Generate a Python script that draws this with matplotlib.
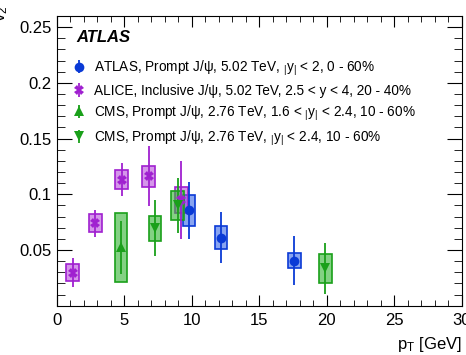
import matplotlib
matplotlib.use("Agg")
import matplotlib.pyplot as plt
from matplotlib.patches import Rectangle
from matplotlib.ticker import MultipleLocator

plt.rcParams['font.family'] = ['Liberation Sans', 'DejaVu Sans']
plt.rcParams['mathtext.fontset'] = 'custom'
plt.rcParams['mathtext.rm'] = 'Liberation Sans'
plt.rcParams['mathtext.it'] = 'Liberation Sans'

# ---- data ----
atlas_x = [9.8, 12.15, 17.6]
atlas_y = [0.0855, 0.061, 0.0405]
atlas_stat = [0.0257, 0.023, 0.0224]
atlas_sys = [0.0142, 0.0105, 0.0068]

alice_x = [1.16, 2.86, 4.79, 6.79, 9.23]
alice_y = [0.0296, 0.074, 0.113, 0.116, 0.095]
alice_stat = [0.0128, 0.012, 0.015, 0.027, 0.035]
alice_sys = [0.0077, 0.008, 0.0084, 0.0096, 0.0115]

cms_fwd_x = [4.74]
cms_fwd_y = [0.0524]
cms_fwd_stat = [0.024]
cms_fwd_sys = [0.031]

cms_mid_x = [7.26, 8.95, 19.9]
cms_mid_y = [0.0695, 0.09, 0.0335]
cms_mid_stat = [0.025, 0.025, 0.0228]
cms_mid_sys = [0.0112, 0.013, 0.013]

labels = [
    r"ATLAS, Prompt J/ψ, 5.02 TeV, ${}_{|}$y${}_{|}$ < 2, 0 - 60%",
    r"ALICE, Inclusive J/ψ, 5.02 TeV, 2.5 < y < 4, 20 - 40%",
    r"CMS, Prompt J/ψ, 2.76 TeV, 1.6 < ${}_{|}$y${}_{|}$ < 2.4, 10 - 60%",
    r"CMS, Prompt J/ψ, 2.76 TeV, ${}_{|}$y${}_{|}$ < 2.4, 10 - 60%",
]

fig = plt.figure(figsize=(4.66, 3.55), dpi=100)
ax = fig.add_axes([0.122, 0.139, 0.869, 0.816])

series = [
    (atlas_x, atlas_y, atlas_stat, atlas_sys, '#0a3ad6', (0.15, 0.35, 0.9, 0.55), 'o', 7, labels[0]),
    (alice_x, alice_y, alice_stat, alice_sys, '#a020d0', (0.7, 0.25, 0.85, 0.55), 'X', 7, labels[1]),
    (cms_fwd_x, cms_fwd_y, cms_fwd_stat, cms_fwd_sys, '#1aa01a', (0.2, 0.7, 0.2, 0.6), '^', 7, labels[2]),
    (cms_mid_x, cms_mid_y, cms_mid_stat, cms_mid_sys, '#1aa01a', (0.2, 0.7, 0.2, 0.6), 'v', 7, labels[3]),
]

hw = 0.46
handles = []
for xs, ys, st, sy, col, fill, mk, ms, lab in series:
    for x, y, s in zip(xs, ys, sy):
        ax.add_patch(Rectangle((x - hw, y - s), 2 * hw, 2 * s, facecolor=fill,
                               edgecolor=col, linewidth=1.2, zorder=2))
    h = ax.errorbar(xs, ys, yerr=st, fmt=mk, color=col, ms=ms, elinewidth=1.3,
                    capsize=0, markeredgewidth=0, zorder=3, label=lab)
    handles.append(h)

ax.set_xlim(0, 30)
ax.set_ylim(0, 0.26)
ax.set_xticks([0, 5, 10, 15, 20, 25, 30])
ax.set_yticks([0.05, 0.1, 0.15, 0.2, 0.25])
ax.set_yticklabels(['0.05', '0.1', '0.15', '0.2', '0.25'])
ax.xaxis.set_minor_locator(MultipleLocator(1))
ax.yaxis.set_minor_locator(MultipleLocator(0.01))
ax.tick_params(which='both', direction='in', top=True, right=True, labelsize=12)
ax.tick_params(axis='x', which='major', length=8, pad=5)
ax.tick_params(axis='x', which='minor', length=4)
ax.tick_params(axis='y', which='major', length=11, pad=4)
ax.tick_params(axis='y', which='minor', length=6)

ax.set_xlabel(r"p$_{\mathrm{T}}$ [GeV]", fontsize=12, loc='right', labelpad=5)
ax.set_ylabel(r"v$_2$", fontsize=12, loc='top')
ax.yaxis.set_label_coords(-0.115, 1.035)

ax.text(0.048, 0.925, "ATLAS", transform=ax.transAxes, fontsize=12,
        fontweight='bold', fontstyle='italic', va='center')

leg = ax.legend(handles=handles, loc='upper left', bbox_to_anchor=(0.025, 0.872),
                frameon=False, fontsize=9.8, handlelength=1.0, handletextpad=0.6,
                labelspacing=0.42, borderaxespad=0)

fig.savefig("out.png", dpi=100)
